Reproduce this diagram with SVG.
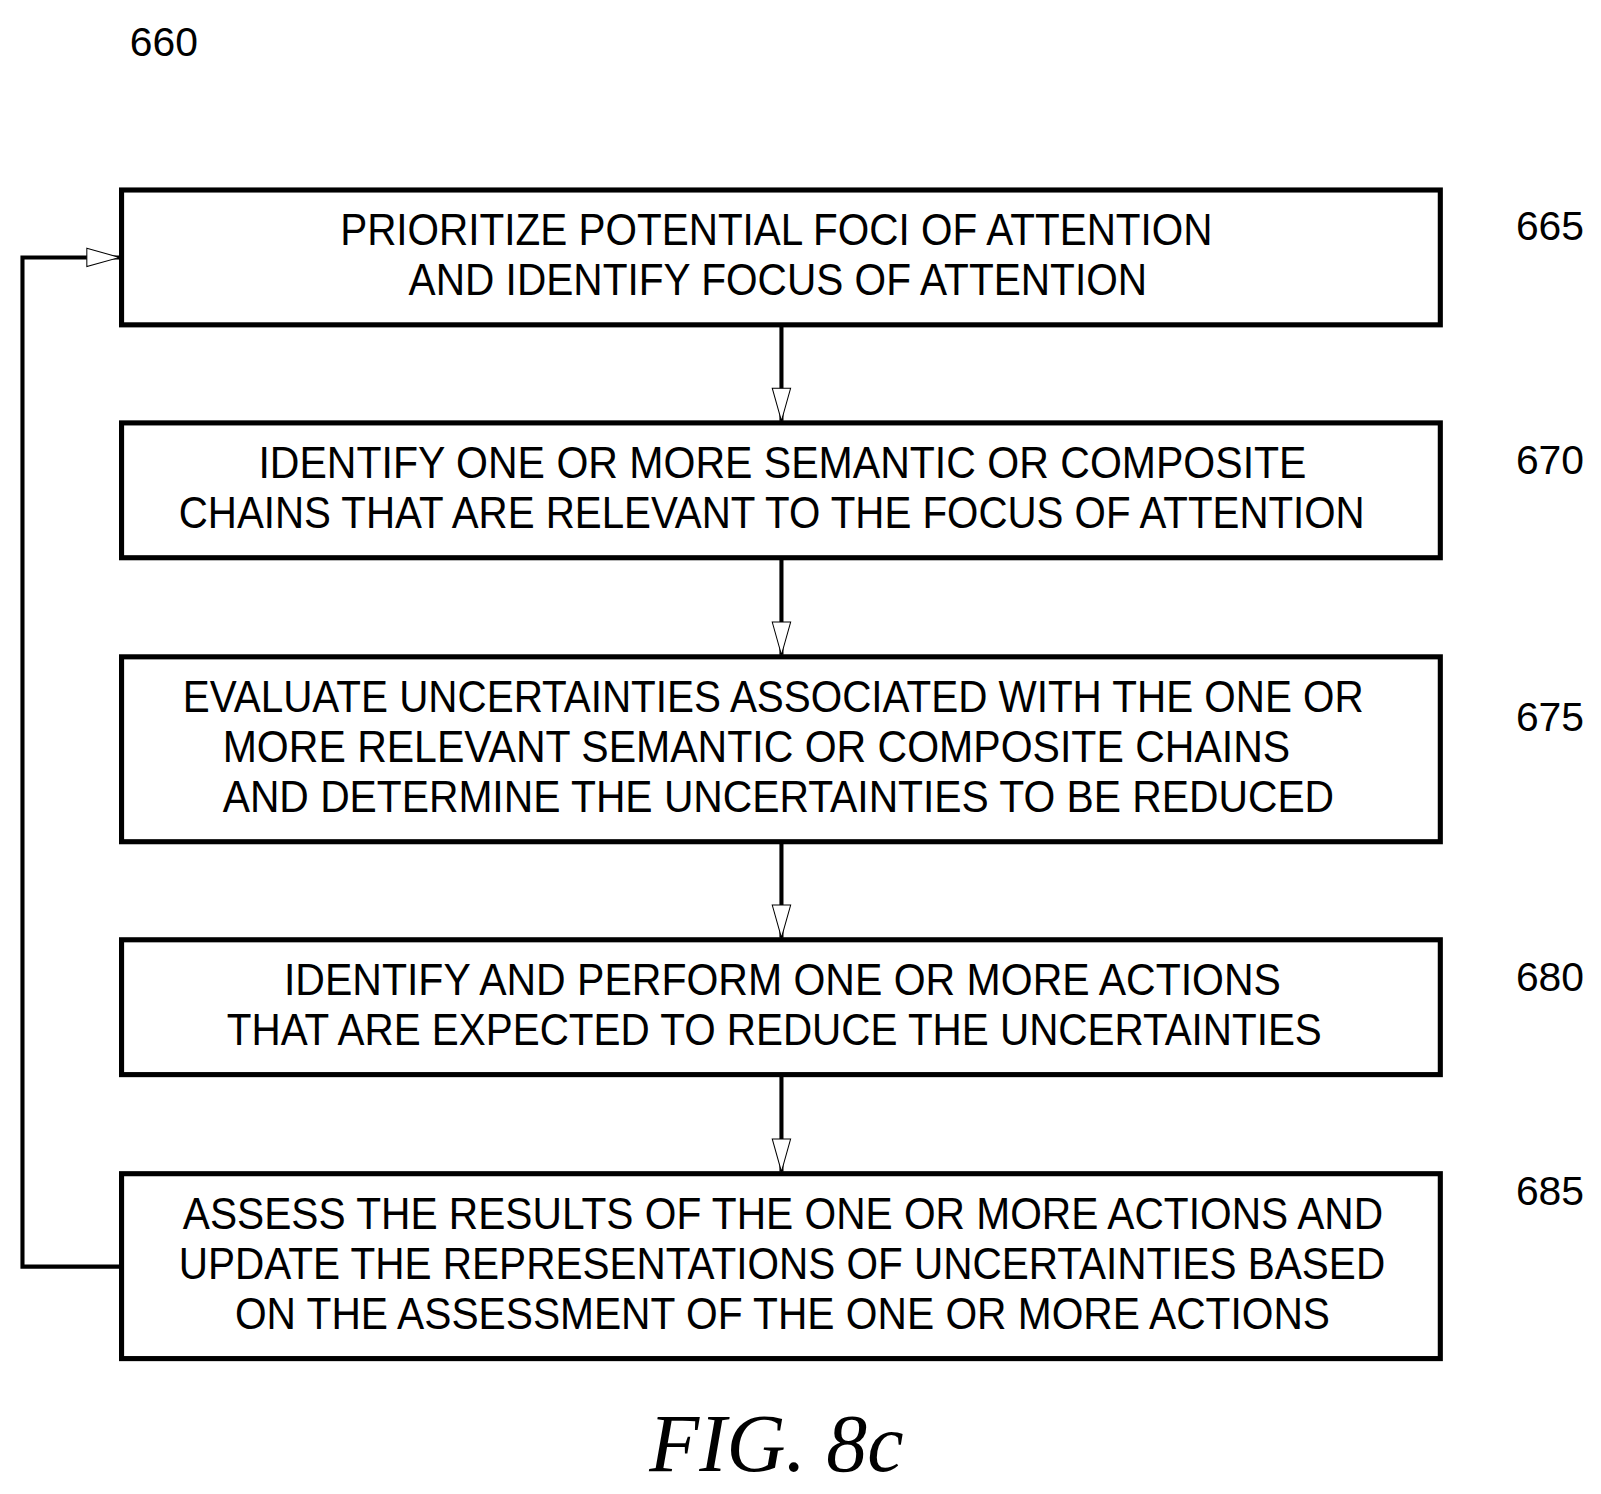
<svg xmlns="http://www.w3.org/2000/svg" width="1601" height="1494" viewBox="0 0 1601 1494">
<style>
.b{fill:#fff;stroke:#000;stroke-width:5}
.t{font-family:"Liberation Sans",Arial,sans-serif;font-size:44px;fill:#000}
.n{font-family:"Liberation Sans",Arial,sans-serif;font-size:40px;fill:#000}
.c{fill:none;stroke:#000;stroke-width:4}
</style>
<defs><marker id="a" markerWidth="34" markerHeight="20" refX="33" refY="10" orient="auto" markerUnits="userSpaceOnUse"><path d="M1,1 L33,10 L1,19 Z" fill="#fff" stroke="#000" stroke-width="1"/></marker></defs>
<rect width="1601" height="1494" fill="#fff"/>
<g transform="scale(1.0215)">
<text class="n" x="127" y="55">660</text>
<g id="connectors">
<line class="c" x1="765" y1="318" x2="765" y2="412" marker-end="url(#a)"/>
<line class="c" x1="765" y1="546" x2="765" y2="641" marker-end="url(#a)"/>
<line class="c" x1="765" y1="824" x2="765" y2="918" marker-end="url(#a)"/>
<line class="c" x1="765" y1="1052" x2="765" y2="1147" marker-end="url(#a)"/>
<polyline class="c" points="119,1240 22,1240 22,252 117,252" marker-end="url(#a)"/>
</g>
<g id="n665"><rect class="b" x="119" y="186" width="1291" height="132"/>
<text class="t" x="333" y="240" textLength="854" lengthAdjust="spacingAndGlyphs">PRIORITIZE POTENTIAL FOCI OF ATTENTION</text>
<text class="t" x="400" y="289" textLength="723" lengthAdjust="spacingAndGlyphs">AND IDENTIFY FOCUS OF ATTENTION</text>
<text class="n" x="1484" y="235">665</text></g>
<g id="n670"><rect class="b" x="119" y="414" width="1291" height="132"/>
<text class="t" x="253" y="468" textLength="1026" lengthAdjust="spacingAndGlyphs">IDENTIFY ONE OR MORE SEMANTIC OR COMPOSITE</text>
<text class="t" x="175" y="517" textLength="1161" lengthAdjust="spacingAndGlyphs">CHAINS THAT ARE RELEVANT TO THE FOCUS OF ATTENTION</text>
<text class="n" x="1484" y="464">670</text></g>
<g id="n675"><rect class="b" x="119" y="643" width="1291" height="181"/>
<text class="t" x="179" y="697" textLength="1156" lengthAdjust="spacingAndGlyphs">EVALUATE UNCERTAINTIES ASSOCIATED WITH THE ONE OR</text>
<text class="t" x="218" y="746" textLength="1045" lengthAdjust="spacingAndGlyphs">MORE RELEVANT SEMANTIC OR COMPOSITE CHAINS</text>
<text class="t" x="218" y="795" textLength="1088" lengthAdjust="spacingAndGlyphs">AND DETERMINE THE UNCERTAINTIES TO BE REDUCED</text>
<text class="n" x="1484" y="716">675</text></g>
<g id="n680"><rect class="b" x="119" y="920" width="1291" height="132"/>
<text class="t" x="278" y="974" textLength="976" lengthAdjust="spacingAndGlyphs">IDENTIFY AND PERFORM ONE OR MORE ACTIONS</text>
<text class="t" x="222" y="1023" textLength="1072" lengthAdjust="spacingAndGlyphs">THAT ARE EXPECTED TO REDUCE THE UNCERTAINTIES</text>
<text class="n" x="1484" y="970">680</text></g>
<g id="n685"><rect class="b" x="119" y="1149" width="1291" height="181"/>
<text class="t" x="179" y="1203" textLength="1175" lengthAdjust="spacingAndGlyphs">ASSESS THE RESULTS OF THE ONE OR MORE ACTIONS AND</text>
<text class="t" x="175" y="1252" textLength="1181" lengthAdjust="spacingAndGlyphs">UPDATE THE REPRESENTATIONS OF UNCERTAINTIES BASED</text>
<text class="t" x="230" y="1301" textLength="1072" lengthAdjust="spacingAndGlyphs">ON THE ASSESSMENT OF THE ONE OR MORE ACTIONS</text>
<text class="n" x="1484" y="1180">685</text></g>
<text x="760" y="1440" text-anchor="middle" font-family="'Liberation Serif','Times New Roman',serif" font-style="italic" font-size="80">FIG. 8c</text>
</g>
</svg>
